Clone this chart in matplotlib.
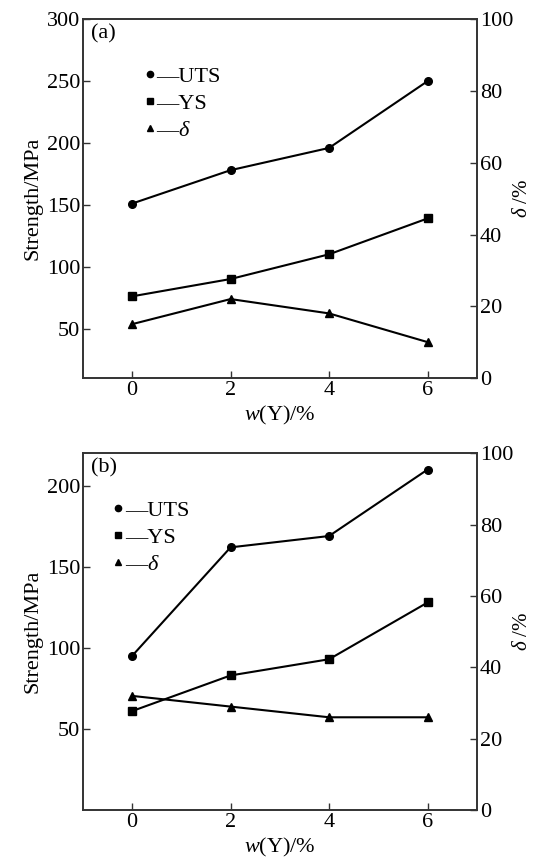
import matplotlib
matplotlib.use('Agg')
from matplotlib import pyplot as plt
from matplotlib.lines import Line2D

plt.rcParams['font.family'] = ['Liberation Serif', 'DejaVu Serif']
plt.rcParams['mathtext.fontset'] = 'custom'
plt.rcParams['mathtext.rm'] = 'Liberation Serif'
plt.rcParams['mathtext.it'] = 'Liberation Serif:italic'

# Y content, %
w_y = [0, 2, 4, 6]

# panel (a)
uts_a = [151, 178, 196, 250]
ys_a = [76, 90, 110, 139]
delta_a = [15, 22, 18, 10]

# panel (b)
uts_b = [95, 162, 169, 210]
ys_b = [61, 83, 93, 128]
delta_b = [32, 29, 26, 26]

FS = 16
EDGE = '#333333'


def draw_panel(fig, rect, uts, ys, delta, tag, left_lim, left_ticks, leg_anchor):
    ax = fig.add_axes(rect)
    ax2 = ax.twinx()

    ax.plot(w_y, uts, color='black', lw=1.5, marker='o', ms=5.5)
    ax.plot(w_y, ys, color='black', lw=1.5, marker='s', ms=5.5)
    ax2.plot(w_y, delta, color='black', lw=1.5, marker='^', ms=5.5)

    ax.set_xlim(-1, 7)
    ax.set_ylim(*left_lim)
    ax.set_xticks([0, 2, 4, 6])
    ax.set_yticks(left_ticks)
    ax2.set_ylim(0, 100)
    ax2.set_yticks([0, 20, 40, 60, 80, 100])

    for a in (ax, ax2):
        for sp in a.spines.values():
            sp.set_color(EDGE)
            sp.set_linewidth(1.2)
        a.tick_params(direction='in', length=5, width=1, color=EDGE,
                      labelsize=FS, pad=2)

    ax.set_ylabel('Strength/MPa', fontsize=FS, labelpad=3)
    ax2.set_ylabel(r'$\delta$ /%', fontsize=FS - 1, labelpad=0)
    ax.set_xlabel(r'$w$(Y)/%', fontsize=FS, labelpad=3)

    ax.text(0.02, 0.985, tag, transform=ax.transAxes, fontsize=FS,
            va='top', ha='left')

    handles = [Line2D([], [], color='black', marker=m, ls='none', ms=4.5)
               for m in ('o', 's', '^')]
    labels = ['\u2014UTS', '\u2014YS', '\u2014' + r'$\delta$']
    ax.legend(handles, labels, loc='upper left', bbox_to_anchor=leg_anchor,
              frameon=False, fontsize=FS, handlelength=0.6,
              handletextpad=0.0, labelspacing=0.3, borderpad=0)
    return ax


fig = plt.figure(figsize=(5.34, 8.61), dpi=100)

draw_panel(fig, [0.155, 0.561, 0.738, 0.4166], uts_a, ys_a, delta_a, '(a)',
           (10, 300), [50, 100, 150, 200, 250, 300], (0.125, 0.9))
draw_panel(fig, [0.155, 0.0592, 0.738, 0.4143], uts_b, ys_b, delta_b, '(b)',
           (0, 220), [50, 100, 150, 200], (0.045, 0.9))

fig.savefig('out.png', dpi=100)
